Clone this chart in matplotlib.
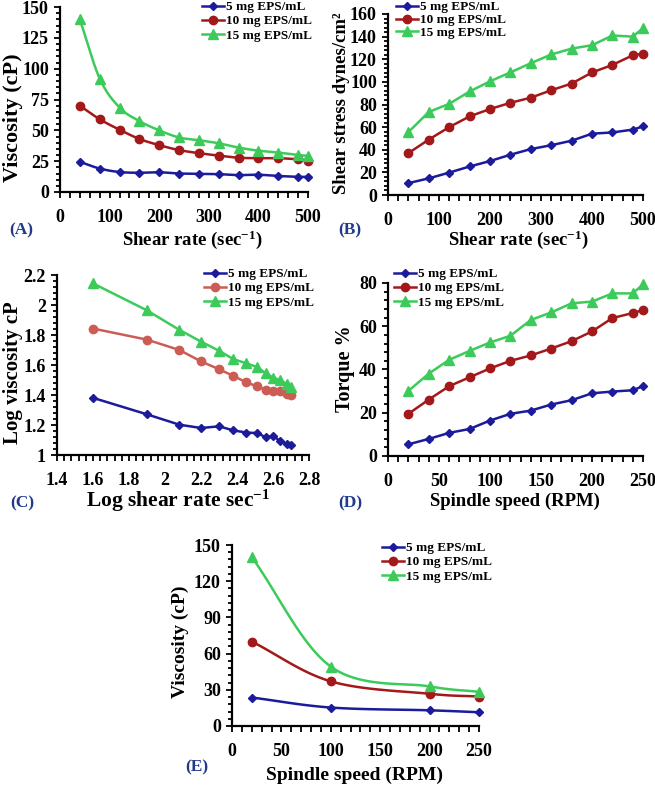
import numpy as np
import matplotlib
matplotlib.use('Agg')
import matplotlib.pyplot as plt
from matplotlib.ticker import MultipleLocator, FuncFormatter

plt.rcParams['font.family'] = ['Liberation Serif', 'DejaVu Serif']
plt.rcParams['font.weight'] = 'bold'
plt.rcParams['mathtext.fontset'] = 'custom'
plt.rcParams['mathtext.rm'] = 'Liberation Serif:bold'
plt.rcParams['mathtext.bf'] = 'Liberation Serif:bold'
plt.rcParams['mathtext.it'] = 'Liberation Serif:bold'

series_labels = ['5 mg EPS/mL', '10 mg EPS/mL', '15 mg EPS/mL']

# (A) viscosity vs shear rate
shear_rate = [40, 80, 120, 160, 200, 240, 280, 320, 360, 400, 440, 480, 500]
visc_5 = [24.5, 19, 16.2, 15.6, 16, 15, 14.8, 14.5, 13.7, 14, 13, 12.3, 12.3]
visc_10 = [70, 59, 50.5, 43, 38, 34, 31.5, 29.5, 27.8, 27.4, 27.4, 26.5, 25.5]
visc_15 = [140, 92, 68.5, 57.5, 50, 44.2, 42, 39.5, 36, 33.5, 32, 30, 29.3]

# (B) shear stress vs shear rate
stress_5 = [10.5, 14.7, 19.8, 25.2, 30, 35.6, 40.6, 44, 48, 54.2, 55.3, 57.8, 60.6]
stress_10 = [37, 49, 60, 69.5, 76, 81.5, 86, 92.6, 98.5, 108.3, 115, 123.5, 125]
stress_15 = [55.6, 73.4, 80.6, 91.5, 100.5, 108.4, 116.5, 124.2, 129.4, 132.4, 141, 140, 147.5]

# (C) log viscosity vs log shear rate
log_shear = [1.60, 1.90, 2.08, 2.20, 2.30, 2.38, 2.45, 2.51, 2.56, 2.60, 2.64, 2.68, 2.70]
logvisc_5 = [1.381, 1.271, 1.202, 1.180, 1.191, 1.164, 1.150, 1.146, 1.119, 1.126, 1.094, 1.072, 1.067]
logvisc_10 = [1.843, 1.769, 1.700, 1.624, 1.572, 1.527, 1.485, 1.458, 1.434, 1.424, 1.424, 1.408, 1.397]
logvisc_15 = [2.144, 1.964, 1.834, 1.756, 1.695, 1.639, 1.612, 1.587, 1.545, 1.516, 1.498, 1.471, 1.453]

# (D) torque vs spindle speed
spindle_d = [20, 40, 60, 80, 100, 120, 140, 160, 180, 200, 220, 240, 250]
torque_5 = [5.4, 7.9, 10.7, 12.5, 16.4, 19.5, 21, 23.8, 25.8, 29, 29.8, 30.4, 32.3]
torque_10 = [19.5, 26.1, 32.3, 36.4, 40.5, 44, 46.5, 49.7, 53.1, 57.6, 63.8, 66.1, 67.5]
torque_15 = [30.1, 38.1, 44.5, 48.6, 52.5, 55.6, 62.9, 66.4, 70.6, 71.4, 75.2, 75.2, 79.4]

# (E) viscosity vs spindle speed
spindle_e = [20, 100, 200, 250]
viscE_5 = [23.6, 15.3, 13, 11.4]
viscE_10 = [70, 37, 26.7, 24.4]
viscE_15 = [140, 49.2, 32.8, 28.3]

W, H = 655, 787
fig = plt.figure(figsize=(W / 100, H / 100), dpi=100)

BLUE = '#1B1B9C'
RED = '#A3191B'
RED_C = '#CC5D55'
GREEN = '#3CCB5A'
LABEL_BLUE = '#223A8C'
markers = ['D', 'o', '^']
msizes = [4, 6, 7]


def catmull(x, y, n=30):
    pts = np.column_stack([x, y]).astype(float)
    P = np.vstack([2 * pts[0] - pts[1], pts, 2 * pts[-1] - pts[-2]])
    out = []
    t = np.linspace(0, 1, n, endpoint=False)[:, None]
    for i in range(1, len(P) - 2):
        p0, p1, p2, p3 = P[i - 1], P[i], P[i + 1], P[i + 2]
        seg = 0.5 * ((2 * p1) + (-p0 + p2) * t + (2 * p0 - 5 * p1 + 4 * p2 - p3) * t ** 2
                     + (-p0 + 3 * p1 - 3 * p2 + p3) * t ** 3)
        out.append(seg)
    out.append(pts[-1][None])
    s = np.vstack(out)
    return s[:, 0], s[:, 1]


def px_axes(left, right, top, bottom):
    return fig.add_axes([left / W, 1 - bottom / H, (right - left) / W, (bottom - top) / H])


def fmt(v, pos):
    return f'{v:g}'


def style(ax, xlim, xmaj, xmin, ylim, ymaj, ymin):
    ax.set_xlim(*xlim)
    ax.set_ylim(*ylim)
    ax.xaxis.set_major_locator(MultipleLocator(xmaj))
    ax.xaxis.set_minor_locator(MultipleLocator(xmin))
    ax.yaxis.set_major_locator(MultipleLocator(ymaj))
    ax.yaxis.set_minor_locator(MultipleLocator(ymin))
    ax.xaxis.set_major_formatter(FuncFormatter(fmt))
    ax.yaxis.set_major_formatter(FuncFormatter(fmt))
    for s in ['top', 'right']:
        ax.spines[s].set_visible(False)
    for s in ['left', 'bottom']:
        ax.spines[s].set_linewidth(1.6)
    ax.tick_params(axis='x', which='both', direction='out', length=4, width=1.3, pad=8.5, labelsize=13)
    ax.tick_params(axis='y', which='both', direction='out', length=4, width=1.3, pad=4, labelsize=13)
    ax.tick_params(axis='y', which='minor', length=3)
    for lab in ax.get_xticklabels() + ax.get_yticklabels():
        lab.set_fontweight('bold')


def plot_series(ax, x, ys, colors, smooth=False):
    for y, c, m, ms, lab in zip(ys, colors, markers, msizes, series_labels):
        if smooth:
            sx, sy = catmull(x, y)
            ax.plot(sx, sy, color=c, lw=1.8, clip_on=False)
            ax.plot(x, y, linestyle='none', marker=m, ms=ms, color=c, clip_on=False, zorder=3)
            ax.plot([], [], color=c, lw=1.8, marker=m, ms=ms, label=lab)
        else:
            ax.plot(x, y, color=c, lw=1.8, marker=m, ms=ms, clip_on=False, label=lab, zorder=3)


def legend(ax, xpx, ypx, spacing=0.15):
    ax.legend(loc='upper left', bbox_to_anchor=(xpx / W, 1 - ypx / H), bbox_transform=fig.transFigure,
              frameon=False, handlelength=1.7, handletextpad=0.15, labelspacing=spacing,
              borderpad=0, borderaxespad=0, numpoints=1, prop={'weight': 'bold', 'size': 9.5})


def labels(ax, xl, xls, xlpos, yl, yls, ylpos, tag, tagpos):
    ax.set_xlabel(xl, fontsize=xls, fontweight='bold', va='center', ha='center')
    ax.xaxis.set_label_coords(xlpos[0] / W, 1 - xlpos[1] / H, transform=fig.transFigure)
    ax.set_ylabel(yl, fontsize=yls, fontweight='bold', va='center', ha='center')
    ax.yaxis.set_label_coords(ylpos[0] / W, 1 - ylpos[1] / H, transform=fig.transFigure)
    fig.text(tagpos[0] / W, 1 - tagpos[1] / H, tag, fontsize=12.5, fontweight='bold', color=LABEL_BLUE,
             ha='center', va='center')


colors = [BLUE, RED, GREEN]

# A
axA = px_axes(60, 308, 7, 192)
plot_series(axA, shear_rate, [visc_5, visc_10, visc_15], colors, smooth=True)
style(axA, (0, 500), 100, 20, (0, 150), 25, 5)
legend(axA, 202, 1)
labels(axA, r'Shear rate (sec$^{-1}$)', 13.5, (192, 240), 'Viscosity (cP)', 16, (13, 118),
       '(A)', (21, 230))

# B
axB = px_axes(388, 643, 14, 195)
plot_series(axB, shear_rate, [stress_5, stress_10, stress_15], colors)
style(axB, (0, 500), 100, 20, (0, 160), 20, 4)
legend(axB, 396, 1, spacing=0.05)
labels(axB, r'Shear rate (sec$^{-1}$)', 13.5, (518, 240), 'Shear stress dynes/cm²', 13.5, (341, 103),
       '(B)', (350, 230))

# C
axC = px_axes(57, 309, 275, 455)
plot_series(axC, log_shear, [logvisc_5, logvisc_10, logvisc_15], [BLUE, RED_C, GREEN])
style(axC, (1.4, 2.8), 0.2, 0.04, (1.0, 2.2), 0.2, 0.04)
legend(axC, 204, 268)
labels(axC, r'Log shear rate sec$^{-1}$', 15.5, (178, 501), 'Log viscosity cP', 15, (13, 373),
       '(C)', (22, 503))

# D
axD = px_axes(388, 643, 283, 456)
plot_series(axD, spindle_d, [torque_5, torque_10, torque_15], colors)
style(axD, (0, 250), 50, 10, (0, 80), 20, 4)
legend(axD, 394, 268)
labels(axD, 'Spindle speed (RPM)', 13.5, (515, 501), 'Torque %', 14.5, (345, 369),
       '(D)', (350, 503))

# E
axE = px_axes(232, 479, 545, 726)
plot_series(axE, spindle_e, [viscE_5, viscE_10, viscE_15], colors, smooth=True)
style(axE, (0, 250), 50, 10, (0, 150), 30, 6)
legend(axE, 382, 542)
labels(axE, 'Spindle speed (RPM)', 14, (355, 775), 'Viscosity (cP)', 14, (180, 642),
       '(E)', (197, 767))

fig.savefig('out.png', dpi=100)
